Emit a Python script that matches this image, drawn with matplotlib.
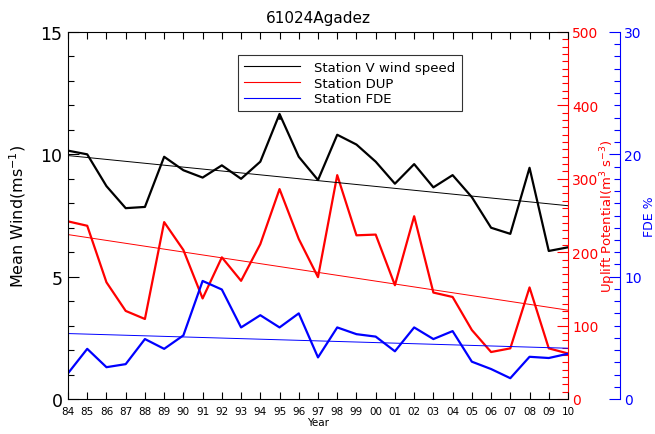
#!/usr/bin/env python3
"""Agadez station wind speed, DUP and FDE time series with linear trends."""
import matplotlib
matplotlib.use("Agg")
import matplotlib.pyplot as plt
from matplotlib.ticker import MultipleLocator

YEARS = list(range(1984, 2011))
YEAR_LABELS = [f"{y % 100:02d}" for y in YEARS]

# Mean wind speed (m/s), left axis
WIND = [10.15, 10.0, 8.7, 7.8, 7.85, 9.9, 9.35, 9.05, 9.55, 9.0, 9.7, 11.65,
        9.9, 8.95, 10.8, 10.4, 9.7, 8.8, 9.6, 8.65, 9.15, 8.25, 7.0, 6.75,
        9.45, 6.05, 6.2]
# Uplift potential DUP, red axis
DUP = [242, 236, 159, 120, 109, 241, 203, 137, 193, 161, 211, 286,
       218, 166, 305, 223, 224, 155, 249, 145, 139, 94, 64, 69,
       152, 69, 62]
# FDE %, blue axis
FDE = [2.1, 4.1, 2.6, 2.85, 4.9, 4.1, 5.2, 9.65, 8.95, 5.85, 6.85, 5.85,
       7.0, 3.4, 5.85, 5.3, 5.1, 3.9, 5.85, 4.9, 5.55, 3.05, 2.45, 1.7,
       3.45, 3.35, 3.7]

# Linear trend values at the first and last year
TREND_YEARS = [1984, 2010]
TREND_WIND = [9.95, 7.9]
TREND_DUP = [224, 121]
TREND_FDE = [5.35, 4.15]

LEGEND_LABELS = ["Station V wind speed", "Station DUP", "Station FDE"]

fig = plt.figure(figsize=(6.55, 4.35), dpi=100)
ax = fig.add_axes([68 / 655, 35 / 435, 500 / 655, 367 / 435])
ax_dup = ax.twinx()
ax_fde = ax.twinx()

# Data series
l1, = ax.plot(YEARS, WIND, color="black", lw=1.6, zorder=3)
ax.plot(TREND_YEARS, TREND_WIND, color="black", lw=0.7)
l2, = ax_dup.plot(YEARS, DUP, color="red", lw=1.6)
ax_dup.plot(TREND_YEARS, TREND_DUP, color="red", lw=0.7)
l3, = ax_fde.plot(YEARS, FDE, color="blue", lw=1.6)
ax_fde.plot(TREND_YEARS, TREND_FDE, color="blue", lw=0.7)

# Left axis
ax.set_xlim(1984, 2010)
ax.set_ylim(0, 15)
ax.set_xticks(YEARS)
ax.set_xticklabels(YEAR_LABELS, fontsize=7.5)
ax.yaxis.set_major_locator(MultipleLocator(5))
ax.yaxis.set_minor_locator(MultipleLocator(1))
ax.tick_params(axis="y", which="major", direction="in", length=8, width=0.8,
               labelsize=12.5, pad=4)
ax.tick_params(axis="y", which="minor", direction="in", length=4, width=0.8)
ax.tick_params(axis="x", which="major", direction="in", length=5, width=0.8,
               top=True, pad=5)
ax.tick_params(axis="y", right=False)
ax.spines["right"].set_visible(False)
ax.set_xlabel("Year", fontsize=7.5, labelpad=1)
ax.set_ylabel(r"Mean Wind(ms$^{-1}$)", fontsize=11.5)
ax.yaxis.set_label_coords(-0.08, 0.5)
ax.set_title("61024Agadez", fontsize=11, pad=7)

# DUP axis
ax_dup.set_ylim(0, 500)
ax_dup.yaxis.set_major_locator(MultipleLocator(100))
ax_dup.yaxis.set_minor_locator(MultipleLocator(10))
ax_dup.tick_params(axis="y", which="major", direction="in", length=8, width=0.8,
                   colors="red", labelsize=10, pad=3)
ax_dup.tick_params(axis="y", which="minor", direction="in", length=4, width=0.8,
                   colors="red")
ax_dup.spines["right"].set_color("red")
for s in ("left", "top", "bottom"):
    ax_dup.spines[s].set_visible(False)
ax_dup.set_ylabel(r"Uplift Potential(m$^{3}$ s$^{-3}$)", color="red", fontsize=9.5)
ax_dup.yaxis.set_label_coords(1.06, 0.5)

# FDE axis
ax_fde.set_ylim(0, 30)
ax_fde.spines["right"].set_position(("axes", 1.104))
ax_fde.spines["right"].set_color("blue")
for s in ("left", "top", "bottom"):
    ax_fde.spines[s].set_visible(False)
ax_fde.yaxis.set_major_locator(MultipleLocator(10))
ax_fde.yaxis.set_minor_locator(MultipleLocator(1))
ax_fde.tick_params(axis="y", which="major", direction="in", length=8, width=0.8,
                   colors="blue", labelsize=10, pad=3)
ax_fde.tick_params(axis="y", which="minor", direction="in", length=4, width=0.8,
                   colors="blue")
ax_fde.set_ylabel("FDE %", color="blue", fontsize=9)
ax_fde.yaxis.set_label_coords(1.15, 0.5)

leg = ax.legend([l1, l2, l3], LEGEND_LABELS, loc="upper center",
                bbox_to_anchor=(0.564, 0.937), fontsize=9.5, frameon=True,
                fancybox=False, handlelength=4.2, borderpad=0.45,
                labelspacing=0.2, handletextpad=1.1, borderaxespad=0)
leg.get_frame().set_edgecolor("black")
leg.get_frame().set_linewidth(0.8)
for h in leg.get_lines():
    h.set_linewidth(0.8)
ax.set_zorder(ax_fde.get_zorder() + 1)
ax.patch.set_visible(False)

# small stray marker under the legend in the original
ax.text(0.424, 0.768, "\u25b2", transform=ax.transAxes, fontsize=4,
        ha="center", va="center")

fig.savefig("out.png", dpi=100)
